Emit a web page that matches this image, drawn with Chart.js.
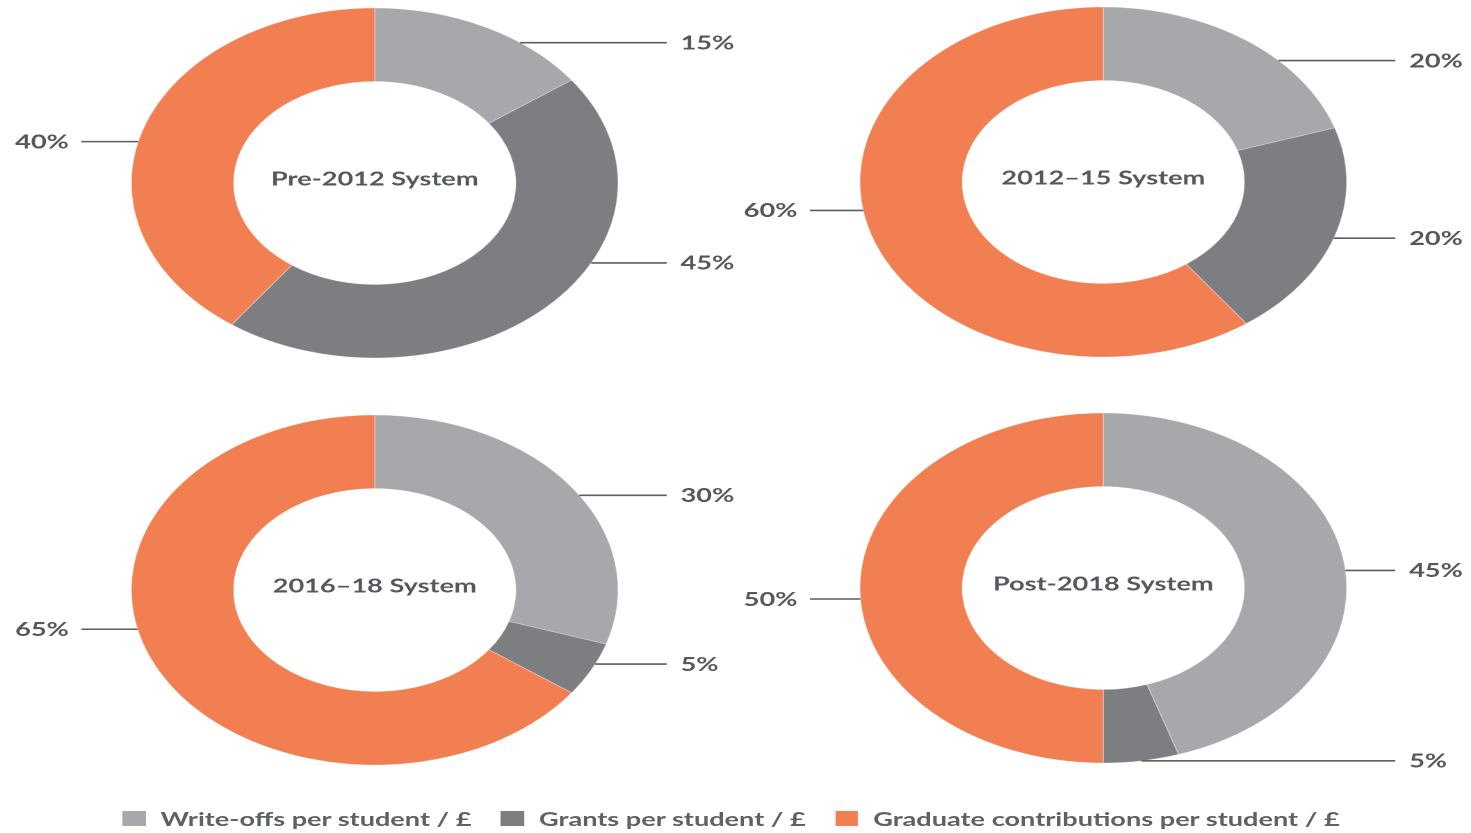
<!DOCTYPE html>
<html>
<head>
<meta charset="utf-8">
<script src="https://cdn.jsdelivr.net/npm/chart.js@4.4.1/dist/chart.umd.min.js"></script>
<style>
  html, body { margin: 0; padding: 0; background: #ffffff; overflow: hidden; }
  #stage { position: absolute; left: 0; top: 0; width: 1058px; height: 833px;
           transform: scale(1.3904, 1); transform-origin: 0 0; }
  #stage canvas { position: absolute; }
  #legend { position: absolute; left: 88px; top: 807px; display: flex; align-items: center;
            font-family: Lato, sans-serif; font-weight: 700; font-size: 19.5px; color: #5e6267; white-space: nowrap; }
  .item { display: flex; align-items: center; margin-right: 21px; }
  .sw { width: 16.5px; height: 15px; margin-right: 11px; }
</style>
</head>
<body>
<div id="stage">
  <canvas id="c1"></canvas>
  <canvas id="c2"></canvas>
  <canvas id="c3"></canvas>
  <canvas id="c4"></canvas>
  <div id="legend"></div>
</div>
<script>
// ---- data ----
const categories = ['Write-offs per student / £', 'Grants per student / £', 'Graduate contributions per student / £'];
const systems = ['Pre-2012 System', '2012–15 System', '2016–18 System', 'Post-2018 System'];
const pre2012 = [15, 45, 40];
const sys2012_15 = [20, 20, 60];
const sys2016_18 = [30, 5, 65];
const post2018 = [45, 5, 50];

// ---- style ----
const colors = ['#a7a8ab', '#7d7e82', '#f27f51'];
const textColor = '#54585e';
const fontFamily = 'Lato, sans-serif';
// where along each slice the leader line leaves the ring (0 = slice start, 1 = slice end)
const leaderPos = [
  [0.68, 0.39, 0.47],
  [0.64, 0.51, 0.54],
  [0.53, 0.39, 0.56],
  [0.52, 0.50, 0.48]
];

const ringPlugin = {
  id: 'ring',
  afterDraw(chart, args, opts) {
    const ctx = chart.ctx;
    const meta = chart.getDatasetMeta(0);
    const values = chart.data.datasets[0].data;
    const a0 = meta.data[0];
    const cx = a0.x, cy = a0.y;
    ctx.save();
    ctx.fillStyle = textColor;
    ctx.font = '700 19.5px ' + fontFamily;
    ctx.textAlign = 'center';
    ctx.textBaseline = 'middle';
    ctx.fillText(opts.title, cx, cy - 4);
    ctx.strokeStyle = '#5a5d62';
    ctx.lineWidth = 1.6;
    meta.data.forEach((arc, i) => {
      const f = opts.leader[i];
      const a = arc.startAngle + (arc.endAngle - arc.startAngle) * f;
      const R = arc.outerRadius;
      const x0 = cx + R * Math.cos(a);
      const y0 = cy + R * Math.sin(a);
      const right = Math.cos(a) >= 0;
      const x1 = right ? cx + 210 : cx - 211;
      ctx.beginPath();
      ctx.moveTo(x0, y0);
      ctx.lineTo(x1, y0);
      ctx.stroke();
      ctx.textAlign = right ? 'left' : 'right';
      ctx.fillText(values[i] + '%', right ? cx + 220 : cx - 220, y0 + 0.5);
    });
    ctx.restore();
  }
};

function makeChart(id, left, top, w, h, pad, values, title, leader) {
  const cv = document.getElementById(id);
  cv.style.left = left + 'px';
  cv.style.top = top + 'px';
  cv.width = w; cv.height = h;
  cv.style.width = w + 'px'; cv.style.height = h + 'px';
  return new Chart(cv, {
    type: 'doughnut',
    data: {
      labels: categories,
      datasets: [{ data: values, backgroundColor: colors, borderColor: 'rgba(255,255,255,0.35)', borderWidth: 0.8 }]
    },
    options: {
      responsive: false,
      animation: false,
      devicePixelRatio: 2,
      radius: 175,
      cutout: '58%',
      layout: { padding: pad },
      plugins: {
        legend: { display: false },
        tooltip: { enabled: false },
        ring: { title: title, leader: leader }
      }
    },
    plugins: [ringPlugin]
  });
}

makeChart('c1', 0, 0, 545, 366, { right: 6 }, pre2012, systems[0], leaderPos[0]);
makeChart('c2', 529, 0, 529, 364, {}, sys2012_15, systems[1], leaderPos[1]);
makeChart('c3', 0, 408, 545, 364, { right: 6 }, sys2016_18, systems[2], leaderPos[2]);
makeChart('c4', 529, 408, 529, 360, {}, post2018, systems[3], leaderPos[3]);

// legend
const lg = document.getElementById('legend');
categories.forEach((c, i) => {
  const it = document.createElement('div');
  it.className = 'item';
  const sw = document.createElement('div');
  sw.className = 'sw';
  sw.style.background = colors[i];
  const tx = document.createElement('span');
  tx.textContent = c;
  it.appendChild(sw); it.appendChild(tx);
  lg.appendChild(it);
});
</script>
</body>
</html>
